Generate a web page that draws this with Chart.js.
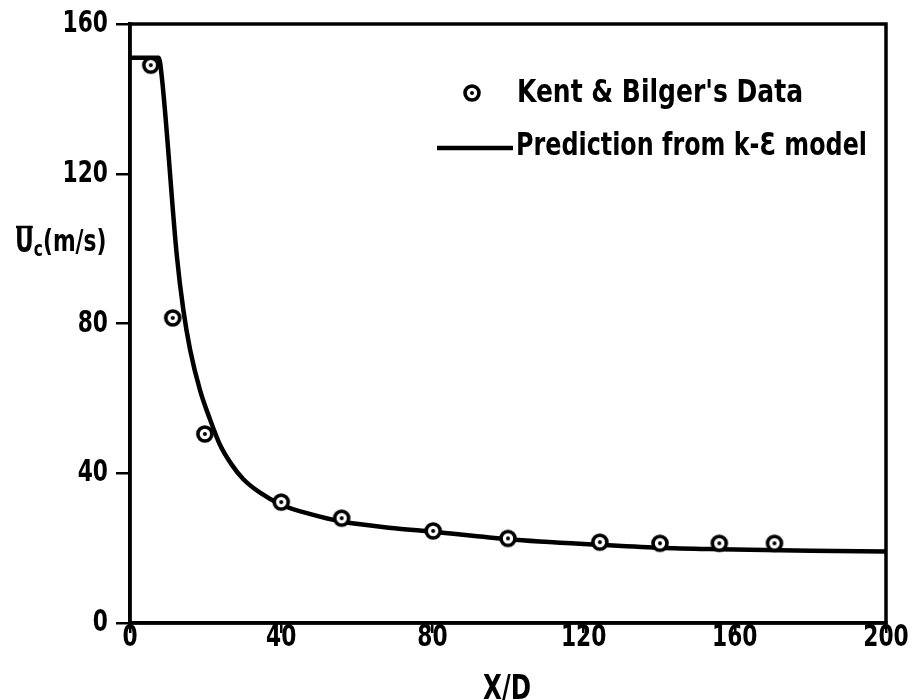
<!DOCTYPE html>
<html>
<head>
    <title>Centerline velocity decay</title>
    <script src="https://cdn.jsdelivr.net/npm/chart.js"></script>
    <style>
        body { margin: 0; background: #fff; }
    </style>
</head>
<body>
    <canvas id="velChart" width="912" height="700"></canvas>

    <script>
        // Kent & Bilger's measurements
        const dataX = [5.5, 11.3, 19.8, 40, 56, 80.2, 100, 124.3, 140.2, 155.9, 170.5];
        const dataU = [149, 81.5, 50.5, 32.3, 28, 24.6, 22.6, 21.6, 21.3, 21.3, 21.3];

        // k-epsilon model prediction
        const modelX = [0, 7.6, 8.4, 12.4, 14.1, 15.9, 18.5, 21.2, 23.8, 26.9, 30, 34.4, 40, 48, 56, 70, 80, 100, 124, 140, 156, 180, 200];
        const modelU = [151, 151, 146, 98, 83.7, 73, 62.3, 54.3, 47.6, 42.3, 38.4, 34.8, 31.6, 29, 27.1, 25.3, 24.4, 22.4, 20.9, 20.1, 19.7, 19.3, 19.1];

        const xTicks = [0, 40, 80, 120, 160, 200];
        const yTicks = [0, 40, 80, 120, 160];

        const FONT = "'Liberation Sans Narrow', 'DejaVu Sans Condensed', sans-serif";
        const SQUEEZE = 0.78;

        // draws text squeezed horizontally, like the old plotter lettering
        function squeezed(ctx, text, x, y, size, align, sx) {
            ctx.save();
            ctx.font = 'bold ' + size + 'px ' + FONT;
            ctx.textBaseline = 'middle';
            ctx.textAlign = align;
            ctx.translate(x, y);
            ctx.scale(sx, 1);
            ctx.fillText(text, 0, 0);
            const w = ctx.measureText(text).width * sx;
            ctx.restore();
            return w;
        }
        function fitWidth(ctx, text, size, width) {
            ctx.save();
            ctx.font = 'bold ' + size + 'px ' + FONT;
            const w = ctx.measureText(text).width;
            ctx.restore();
            return width / w;
        }

        // circle with a dot in the middle
        function makeMarker() {
            const c = document.createElement('canvas');
            c.width = 22; c.height = 22;
            const g = c.getContext('2d');
            g.fillStyle = '#fff';
            g.strokeStyle = '#000';
            g.lineWidth = 3.6;
            g.beginPath(); g.arc(11, 11, 7, 0, Math.PI * 2); g.fill(); g.stroke();
            g.fillStyle = '#000';
            g.beginPath(); g.arc(11, 11, 2, 0, Math.PI * 2); g.fill();
            return c;
        }
        const marker = makeMarker();

        const paperPlugin = {
            id: 'paper',
            afterDraw(chart) {
                const { ctx, chartArea: a, scales } = chart;
                ctx.save();
                ctx.strokeStyle = '#000';
                ctx.fillStyle = '#000';
                ctx.lineWidth = 3.5;
                ctx.strokeRect(a.left, a.top, a.right - a.left, a.bottom - a.top);

                // tick labels, placed by the scales
                scales.x.ticks.forEach(t => {
                    squeezed(ctx, String(t.value), scales.x.getPixelForValue(t.value), a.bottom + 15, 31, 'center', SQUEEZE);
                });
                scales.y.ticks.forEach(t => {
                    squeezed(ctx, String(t.value), a.left - 22, scales.y.getPixelForValue(t.value), 31, 'right', SQUEEZE);
                });

                // axis titles
                squeezed(ctx, 'X/D', (a.left + a.right) / 2 - 1, a.bottom + 67, 34, 'center', 0.8);
                let x = 15, y = 243;
                const wU = squeezed(ctx, 'U', x, y, 33, 'left', SQUEEZE);
                ctx.lineWidth = 2.5;
                ctx.beginPath(); ctx.moveTo(x + 1, y - 16); ctx.lineTo(x + wU - 1, y - 16); ctx.stroke();
                x += wU;
                x += squeezed(ctx, 'c', x, y + 7, 22, 'left', SQUEEZE);
                squeezed(ctx, '(m/s)', x, y, 31, 'left', SQUEEZE);

                // legend
                ctx.drawImage(marker, a.left + 342 - 11, a.top + 69 - 11);
                const t1 = "Kent & Bilger's Data";
                squeezed(ctx, t1, a.left + 387, a.top + 70, 32, 'left', fitWidth(ctx, t1, 32, 286));
                ctx.lineWidth = 4.5;
                ctx.beginPath(); ctx.moveTo(a.left + 307, a.top + 124); ctx.lineTo(a.left + 383, a.top + 124); ctx.stroke();
                const t2 = 'Prediction from k-\u0190 model';
                squeezed(ctx, t2, a.left + 386, a.top + 123, 32, 'left', fitWidth(ctx, t2, 32, 351));
                ctx.restore();
            }
        };

        const ctx = document.getElementById('velChart').getContext('2d');
        new Chart(ctx, {
            type: 'scatter',
            data: {
                datasets: [
                    {
                        label: 'Prediction from k-\u0190 model',
                        data: modelX.map((x, i) => ({ x: x, y: modelU[i] })),
                        showLine: true,
                        borderColor: '#000',
                        borderWidth: 4.5,
                        pointRadius: 0,
                        cubicInterpolationMode: 'monotone',
                        order: 2
                    },
                    {
                        label: "Kent & Bilger's Data",
                        data: dataX.map((x, i) => ({ x: x, y: dataU[i] })),
                        pointStyle: marker,
                        pointRadius: 9,
                        order: 1
                    }
                ]
            },
            options: {
                responsive: false,
                animation: false,
                layout: { padding: { top: 24, right: 26, left: 0, bottom: 0 } },
                plugins: { legend: { display: false }, tooltip: { enabled: false } },
                scales: {
                    x: {
                        type: 'linear',
                        min: 0, max: 200,
                        afterBuildTicks: s => { s.ticks = xTicks.map(v => ({ value: v })); },
                        afterFit: s => { s.height = 77; },
                        border: { display: true, color: '#000', width: 3.5 },
                        grid: { drawOnChartArea: false, color: '#000', lineWidth: 2.5, tickLength: 10 },
                        ticks: { display: false }
                    },
                    y: {
                        type: 'linear',
                        min: 0, max: 160,
                        afterBuildTicks: s => { s.ticks = yTicks.map(v => ({ value: v })); },
                        afterFit: s => { s.width = 130; },
                        border: { display: true, color: '#000', width: 3.5 },
                        grid: { drawOnChartArea: false, color: '#000', lineWidth: 2.5, tickLength: 14 },
                        ticks: { display: false }
                    }
                }
            },
            plugins: [paperPlugin]
        });
    </script>
</body>
</html>
